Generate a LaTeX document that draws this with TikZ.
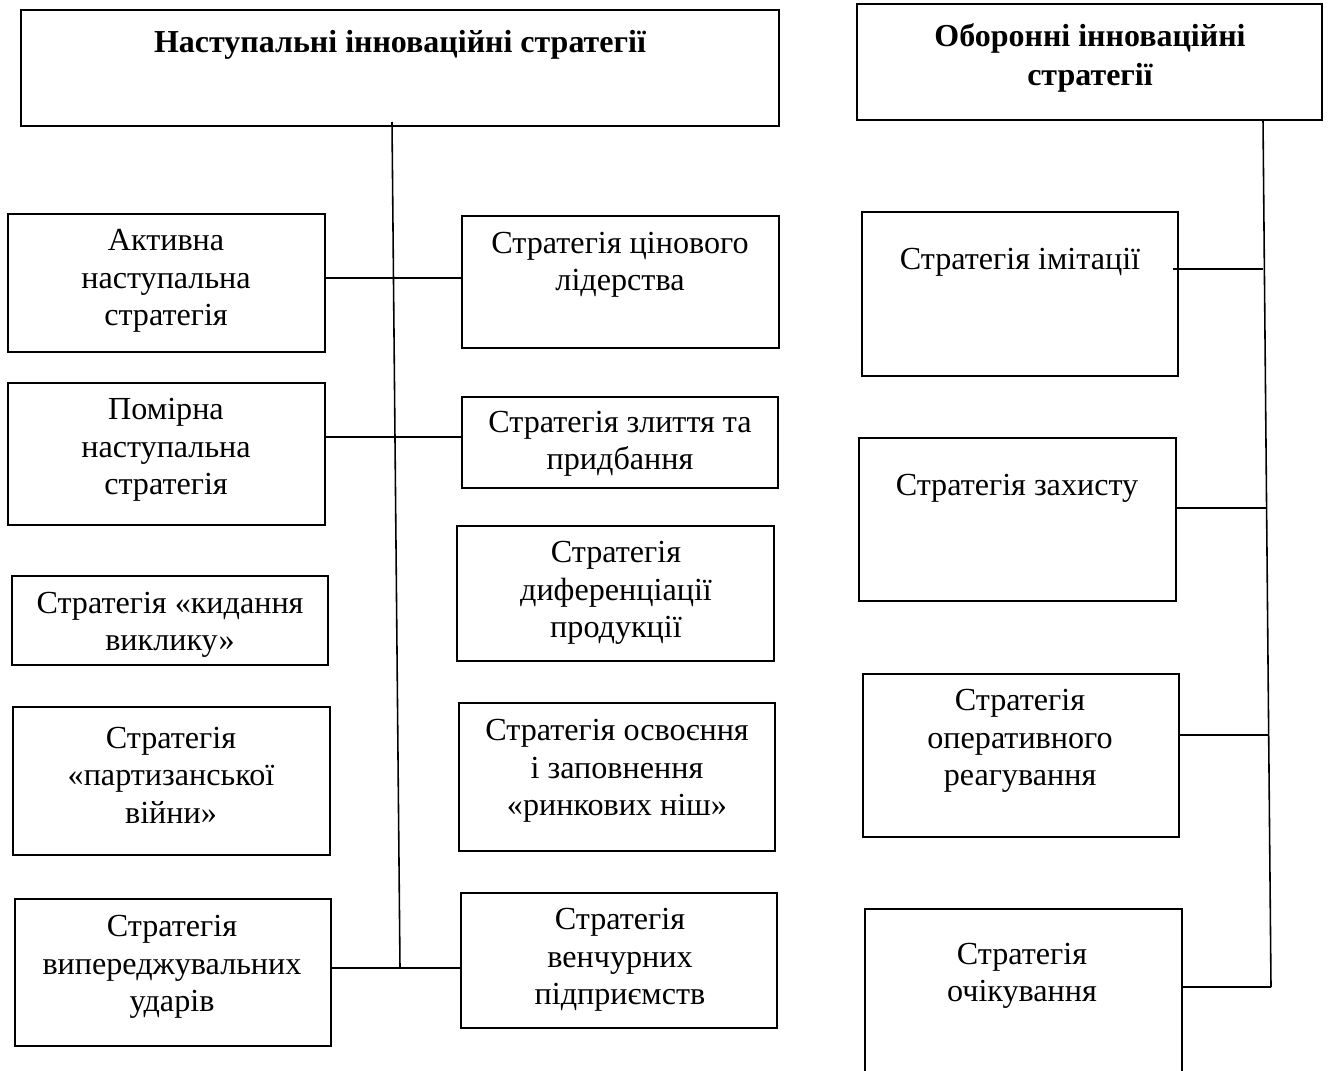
\documentclass[tikz,border=0pt]{standalone}
\usepackage{fontspec}
\setmainfont{Liberation Serif}
\usetikzlibrary{calc,
	positioning}
\tikzset{
	strat/.style={draw, line width=0.6pt, inner sep=0pt},
	txt/.style={align=center, inner sep=0pt, font=\fontsize{18.3}{21.3}\selectfont},
	head/.style={align=center, inner sep=0pt, font=\fontsize{18.2}{22.7}\selectfont\bfseries},
	link/.style={line width=1pt},
	spine/.style={line width=0.9pt}
}
% box from corner to corner
\newcommand{\stratbox}[5]{%
	\node[strat, minimum width={(#4-#2)*0.02cm}, minimum height={(#5-#3)*0.02cm}]
		(#1) at ({(#2+#4)/2}, {(#3+#5)/2}) {};
}

\begin{document}
\begin{tikzpicture}[x=0.02cm, y=-0.02cm]
	\useasboundingbox (0,0) rectangle (1328,1071);
	% headers
	\stratbox{nast}{21}{10}{779}{126}
	\node[head] (nast-t) at (400,45) {Наступальні інноваційні стратегії};
	\stratbox{obor}{857}{4}{1322}{120}
	\node[head] (obor-t) at (1090,58) {Оборонні інноваційні\\стратегії};
	% left column
	\stratbox{akt}{8}{214}{325}{352}
	\node[txt] (akt-t) at (166,281) {Активна\\наступальна\\стратегія};
	\stratbox{pom}{8}{383}{325}{525}
	\node[txt] (pom-t) at (166,450) {Помірна\\наступальна\\стратегія};
	\stratbox{kyd}{12}{576}{328}{665}
	\node[txt] (kyd-t) at (170,625) {Стратегія «кидання\\виклику»};
	\stratbox{part}{13}{707}{330}{855}
	\node[txt] (part-t) at (171,775) {Стратегія\\«партизанської\\війни»};
	\stratbox{vyp}{15}{899}{331}{1046}
	\node[txt] (vyp-t) at (172,967) {Стратегія\\випереджувальних\\ударів};
	% middle column
	\stratbox{cin}{462}{216}{779}{348}
	\node[txt] (cin-t) at (620,265) {Стратегія цінового\\лідерства};
	\stratbox{zlyt}{462}{397}{778}{488}
	\node[txt] (zlyt-t) at (620,444) {Стратегія злиття та\\придбання};
	\stratbox{dyf}{457}{526}{774}{661}
	\node[txt] (dyf-t) at (616,593) {Стратегія\\диференціації\\продукції};
	\stratbox{osv}{459}{703}{775}{851}
	\node[txt] (osv-t) at (617,771) {Стратегія освоєння\\і заповнення\\«ринкових ніш»};
	\stratbox{ven}{461}{893}{777}{1028}
	\node[txt] (ven-t) at (620,960) {Стратегія\\венчурних\\підприємств};
	% right column
	\stratbox{imit}{862}{212}{1178}{376}
	\node[txt] (imit-t) at (1020,262) {Стратегія імітації};
	\stratbox{zah}{859}{438}{1176}{601}
	\node[txt] (zah-t) at (1017,488) {Стратегія захисту};
	\stratbox{oper}{863}{674}{1179}{837}
	\node[txt] (oper-t) at (1020,741) {Стратегія\\оперативного\\реагування};
	\stratbox{ochik}{865}{909}{1182}{1090}
	\node[txt] (ochik-t) at (1022,976) {Стратегія\\очікування};
	% spines
	\coordinate (l0) at (392,122);
	\coordinate (l1) at (393,278);
	\coordinate (l2) at (396,437);
	\coordinate (l3) at (400,968);
	\coordinate (r0) at (1263,120);
	\coordinate (r1) at (1263,269);
	\coordinate (r2) at (1266,508);
	\coordinate (r3) at (1268,735);
	\coordinate (r4) at (1271,987);
	\draw[spine] (l0) -- (l3);
	\draw[spine] (r0) -- (r4);
	% links
	\draw[link] (akt.east |- l1) -- (cin.west |- l1);
	\draw[link] (pom.east |- l2) -- (zlyt.west |- l2);
	\draw[link] (vyp.east |- l3) -- (ven.west |- l3);
	\draw[link] ($(imit.east |- r1)+(-6,0)$) -- (r1);
	\foreach \bx/\rc in {zah/r2, oper/r3, ochik/r4} {
		\draw[link] (\bx.east |- \rc) -- (\rc);
	}
\end{tikzpicture}
\end{document}
